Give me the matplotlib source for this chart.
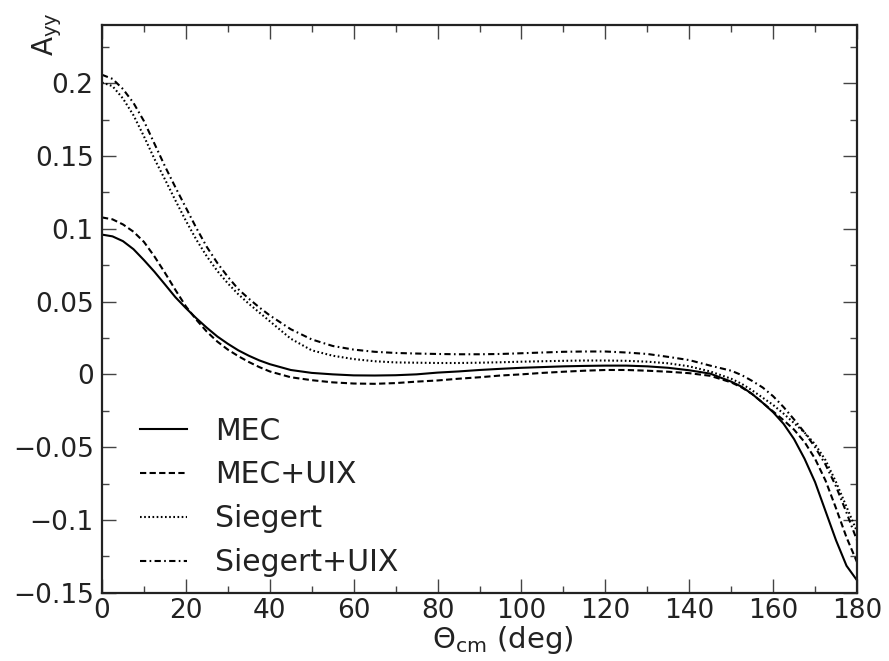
import matplotlib
matplotlib.use("Agg")
import matplotlib.pyplot as plt
from matplotlib.ticker import MultipleLocator, FixedLocator, FixedFormatter

plt.rcParams['font.family'] = ['DejaVu Sans']
plt.rcParams['mathtext.default'] = 'regular'

theta = [0, 2.5, 5, 7.5, 10, 12.5, 15, 17.5, 20, 22.5, 25, 27.5, 30, 32.5, 35, 37.5, 40,
         45, 50, 55, 60, 65, 70, 75, 80, 85, 90, 95, 100, 105, 110, 115, 120, 125, 130,
         135, 140, 145, 150, 152.5, 155, 157.5, 160, 162.5, 165, 167.5, 170, 172.5,
         175, 177.5, 180]

mec = [0.096, 0.0948, 0.0915, 0.086, 0.0785, 0.0705, 0.0618, 0.053, 0.0455, 0.0385,
       0.032, 0.026, 0.021, 0.0165, 0.0128, 0.0096, 0.007,
       0.003, 0.001, 0.0, -0.0007, -0.0008, -0.0006, 0.0, 0.0012, 0.002, 0.003, 0.0038,
       0.0045, 0.005, 0.0055, 0.0058, 0.006, 0.006, 0.0055, 0.0045, 0.0028, 0.0005,
       -0.005, -0.0085, -0.0135, -0.0195, -0.026, -0.034, -0.0445, -0.058, -0.074,
       -0.094, -0.114, -0.1315, -0.1415]

mec_uix = [0.1078, 0.1065, 0.103, 0.098, 0.091, 0.081, 0.0698, 0.058, 0.0467, 0.0375,
           0.0293, 0.0225, 0.017, 0.0125, 0.0085, 0.005, 0.002,
           -0.002, -0.004, -0.0055, -0.0063, -0.0065, -0.006, -0.005, -0.0042, -0.003,
           -0.002, -0.0008, 0.0, 0.001, 0.0018, 0.0025, 0.003, 0.003, 0.0025, 0.0018,
           0.0008, -0.001, -0.0055, -0.009, -0.0135, -0.0195, -0.0255, -0.0315, -0.038,
           -0.0465, -0.058, -0.073, -0.092, -0.112, -0.129]

siegert = [0.2005, 0.198, 0.1895, 0.178, 0.1635, 0.148, 0.134, 0.1195, 0.1055, 0.0925,
           0.081, 0.071, 0.0625, 0.055, 0.0485, 0.0425, 0.0365,
           0.0245, 0.0165, 0.0128, 0.0105, 0.009, 0.0082, 0.008, 0.0078, 0.0078, 0.008,
           0.0083, 0.0087, 0.009, 0.0093, 0.0095, 0.0095, 0.0093, 0.0087, 0.0076, 0.0055,
           0.002, -0.003, -0.0065, -0.011, -0.0160, -0.021, -0.027, -0.0335, -0.040,
           -0.048, -0.059, -0.074, -0.091, -0.108]

siegert_uix = [0.2058, 0.203, 0.196, 0.1865, 0.174, 0.1585, 0.143, 0.1285, 0.1145, 0.1005,
               0.0875, 0.0765, 0.067, 0.0585, 0.052, 0.046, 0.0405,
               0.031, 0.024, 0.0195, 0.017, 0.0155, 0.0147, 0.0143, 0.014, 0.0138, 0.0138,
               0.014, 0.0145, 0.015, 0.0155, 0.0157, 0.0157, 0.015, 0.014, 0.012, 0.0098,
               0.006, 0.0025, -0.0005, -0.0045, -0.009, -0.015, -0.0225, -0.031, -0.040,
               -0.050, -0.062, -0.077, -0.095, -0.114]

labels = ['MEC', 'MEC+UIX', 'Siegert', 'Siegert+UIX']
x_ticks = [0, 20, 40, 60, 80, 100, 120, 140, 160, 180]
y_ticks = [-0.15, -0.1, -0.05, 0, 0.05, 0.1, 0.15, 0.2]
y_ticklabels = ['\u22120.15', '\u22120.1', '\u22120.05', '0', '0.05', '0.1', '0.15', '0.2']

W, H = 889, 661
fig = plt.figure(figsize=(W / 100, H / 100), dpi=100)
ax = fig.add_axes([102 / W, 1 - 592.7 / H, (857 - 102) / W, (592.7 - 25) / H])

lw = 1.5
ax.plot(theta, mec, color='black', lw=lw, linestyle='-', label=labels[0])
ax.plot(theta, mec_uix, color='black', lw=lw, linestyle=(0, (3, 1.6)), label=labels[1])
ax.plot(theta, siegert, color='black', lw=lw, linestyle=(0, (0.8, 1.2)), label=labels[2])
ax.plot(theta, siegert_uix, color='black', lw=lw, linestyle=(0, (3, 1.6, 0.8, 1.6)), label=labels[3])

ax.set_xlim(0, 180)
ax.set_ylim(-0.15, 0.24)
ax.xaxis.set_major_locator(FixedLocator(x_ticks))
ax.xaxis.set_minor_locator(MultipleLocator(10))
ax.yaxis.set_major_locator(FixedLocator(y_ticks))
ax.yaxis.set_major_formatter(FixedFormatter(y_ticklabels))
ax.yaxis.set_minor_locator(MultipleLocator(0.025))

ax.tick_params(which='both', direction='in', top=True, right=True, color='#444444', width=1.0)
ax.tick_params(which='major', length=10, labelsize=19, labelcolor='#222222')
ax.tick_params(axis='x', which='major', pad=4)
ax.tick_params(axis='y', which='major', pad=6)
ax.tick_params(which='minor', length=5)
for s in ax.spines.values():
    s.set_linewidth(1.6)
    s.set_color('#222222')

leg = ax.legend(loc='lower left', bbox_to_anchor=(0.035, 0.006), frameon=False,
                fontsize=21.5, handlelength=1.55, handletextpad=0.95, labelspacing=0.5,
                borderaxespad=0)
for t in leg.get_texts():
    t.set_color('#222222')

fig.text(503 / W, 1 - 648 / H, r'$\Theta_{cm}$ (deg)', ha='center', va='baseline',
         fontsize=21, color='#222222')
fig.text(47 / W, 1 - 12 / H, r'$A_{yy}$', ha='center', va='top', rotation=90,
         fontsize=20, color='#222222')

fig.savefig('out.png', dpi=100)
